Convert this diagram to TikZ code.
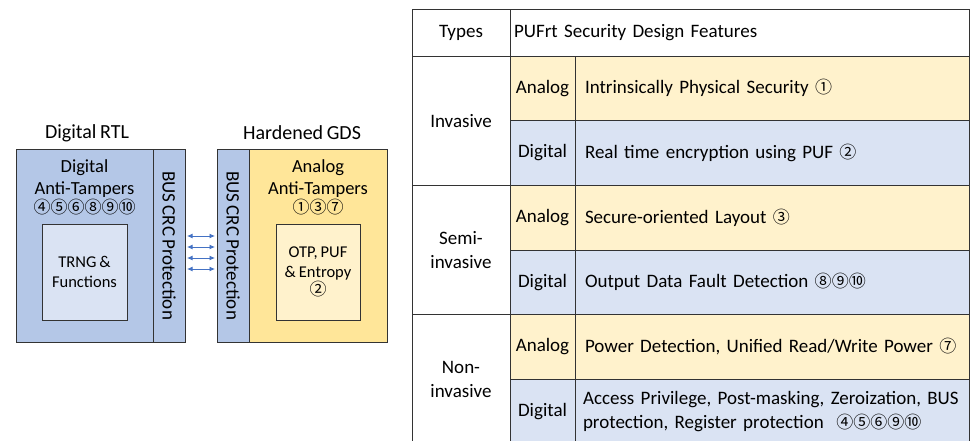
\documentclass[tikz,border=0pt]{standalone}
\usepackage{fontspec}
\setmainfont{Carlito}[WordSpace=0.8]
\newfontfamily\circfont{Noto Sans CJK SC}
\usetikzlibrary{arrows.meta,positioning}
\definecolor{digblue}{HTML}{B4C7E7}
\definecolor{digpale}{HTML}{DAE3F3}
\definecolor{anagold}{HTML}{FFE699}
\definecolor{anapale}{HTML}{FFF2CC}
\definecolor{linkblue}{HTML}{4472C4}
\newcommand{\cnum}[1]{{\circfont\fontsize{17}{17}\selectfont #1}}

\begin{document}
\begin{tikzpicture}[
    x=1pt, y=-1pt,
    node distance=0pt,
    every node/.style={outer sep=0pt},
    blk/.style={draw=black!80, line width=0.9pt, inner sep=0pt},
    title/.style={font=\fontsize{20}{22}\selectfont},
    busbox/.style={blk, fill=digblue, rotate=-90, minimum width=193, minimum height=32,
                   font=\fontsize{19}{20}\selectfont},
    inbox/.style={blk, minimum width=85, minimum height=96, align=center,
                  font=\fontsize{16.5}{20}\selectfont},
    tamper/.style={align=center, font=\fontsize{18.5}{22}\selectfont},
    link/.style={{Latex[length=5.5pt,width=5pt]}-{Latex[length=5.5pt,width=5pt]},
                 draw=linkblue, line width=0.9pt, shorten <=2pt, shorten >=2pt},
    tbl/.style={draw=black!80, line width=0.9pt, inner sep=0pt,
                font=\fontsize{19}{24}\selectfont},
    typecell/.style={tbl, fill=white, minimum width=98, minimum height=129.33, align=center},
    kind/.style={tbl, minimum width=65, minimum height=64.67},
    feat/.style={tbl, minimum height=64.67, text width=374, inner xsep=10pt, align=left},
    anarow/.style={fill=anapale},
    digrow/.style={fill=digpale}
  ]
    \useasboundingbox (0,0) rectangle (973,441);

    % Digital RTL side
    \node[title] (rtltitle) at (87,133) {Digital RTL};
    \node[blk, fill=digblue, minimum width=137, minimum height=193] (dig) at (84.5,245.5) {};
    \node[busbox] (bus1) at (169,245.5) {BUS CRC Protection};
    \node[tamper] (digtamp) at (84.5,187) {Digital\\Anti-Tampers\\[-3pt]\cnum{④⑤⑥⑧⑨⑩}};
    \node[inbox, fill=digpale] (trng) at (84.5,272) {TRNG \&\\Functions};

    % Hardened GDS side
    \node[title] (gdstitle) at (302,133) {Hardened GDS};
    \node[busbox] (bus2) at (233,245.5) {BUS CRC Protection};
    \node[blk, fill=anagold, minimum width=138, minimum height=193] (ana) at (318,245.5) {};
    \node[tamper] (anatamp) at (318,187) {Analog\\Anti-Tampers\\[-3pt]\cnum{①③⑦}};
    \node[inbox, fill=anapale, minimum width=84] (otp) at (318,272) {OTP, PUF\\\& Entropy\\[-2pt]\cnum{②}};

    % Bus links
    \foreach \dy in {9.5,-1.5,-12.5,-23.5}
      \draw[link] ([yshift=\dy pt]bus1.north) -- ([yshift=\dy pt]bus2.south);

    % Table header
    \node[tbl, minimum width=98, minimum height=46.5] (types) at (461,32.75) {Types};
    \node[tbl, right=of types, minimum height=46.5, text width=451, inner xsep=4pt,
          align=left] (feathead) {PUFrt Security Design Features};

    % Invasive
    \node[typecell, below=of types] (inv) {Invasive};
    \node[kind, anarow, anchor=north west] (an1) at (inv.north east) {Analog};
    \node[kind, digrow, below=of an1] (dg1) {Digital};
    \node[feat, anarow, right=of an1] (ft1) {Intrinsically Physical Security \cnum{①}};
    \node[feat, digrow, right=of dg1] (ft2) {Real time encryption using PUF \cnum{②}};

    % Semi-invasive
    \node[typecell, below=of inv] (semi) {Semi-\\invasive};
    \node[kind, anarow, anchor=north west] (an2) at (semi.north east) {Analog};
    \node[kind, digrow, below=of an2] (dg2) {Digital};
    \node[feat, anarow, right=of an2] (ft3) {Secure-oriented Layout \cnum{③}};
    \node[feat, digrow, right=of dg2] (ft4) {Output Data Fault Detection \cnum{⑧⑨⑩}};

    % Non-invasive
    \node[typecell, below=of semi] (non) {Non-\\invasive};
    \node[kind, anarow, anchor=north west] (an3) at (non.north east) {Analog};
    \node[kind, digrow, below=of an3] (dg3) {Digital};
    \node[feat, anarow, right=of an3] (ft5) {Power Detection, Unified Read/Write Power \cnum{⑦}};
    \node[feat, digrow, right=of dg3, text width=378, inner xsep=8pt] (ft6) {Access Privilege, Post-masking, Zeroization, BUS\\protection, Register protection \ \cnum{④⑤⑥⑨⑩}};
  \end{tikzpicture}
\end{document}
